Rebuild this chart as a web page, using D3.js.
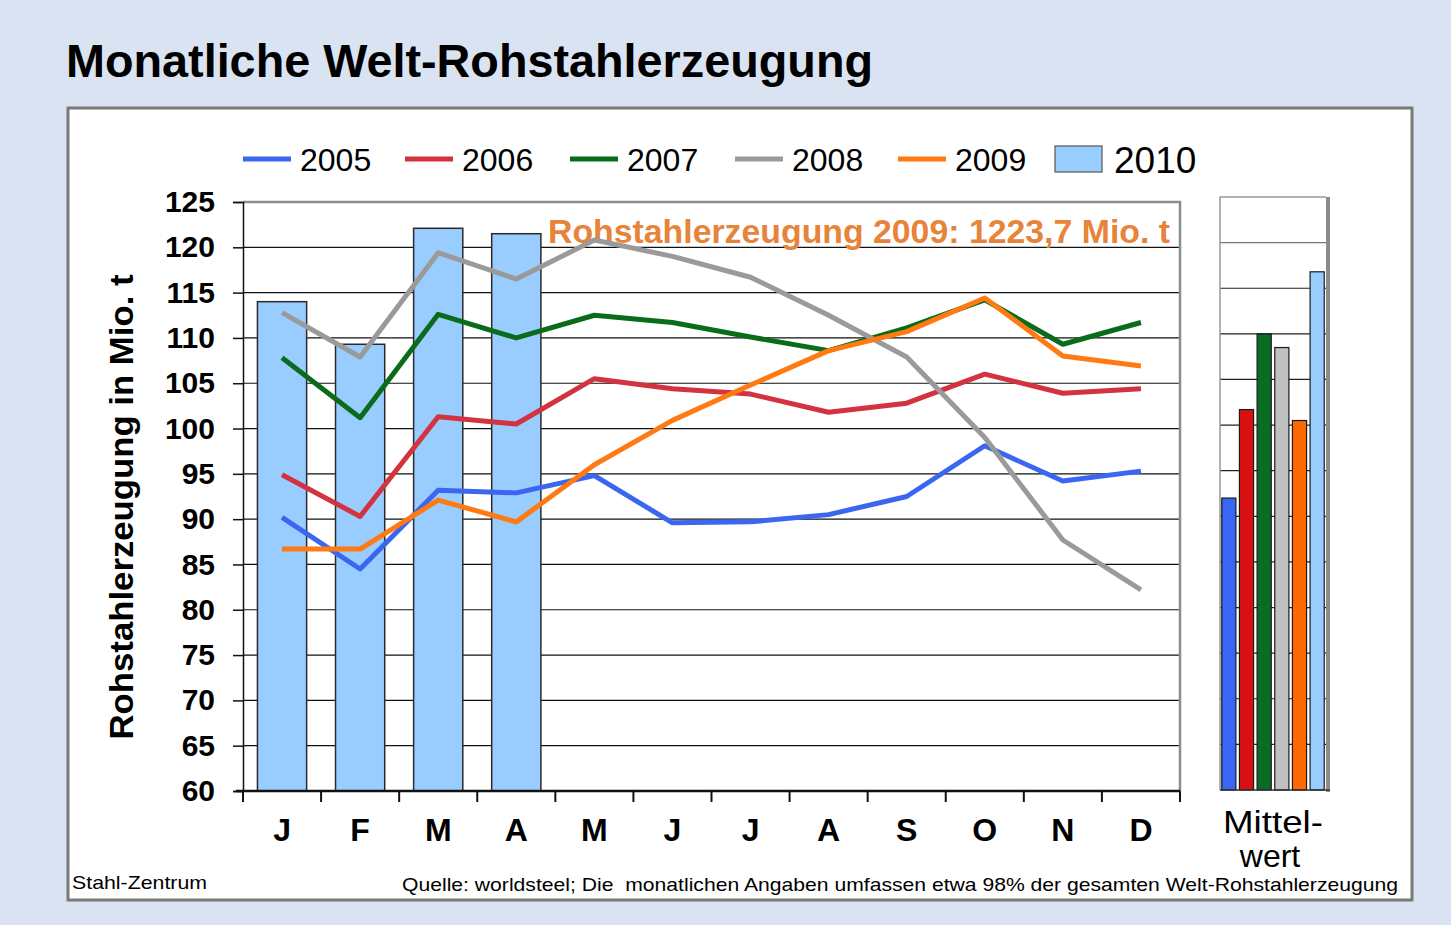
<!DOCTYPE html>
<meta charset="utf-8">
<html>
<head>
  <title>Monatliche Welt-Rohstahlerzeugung</title>
  <style>
    body { margin: 0; background-color: #dae3f1; }
    text { font-family: "Liberation Sans", Arial, sans-serif; }
  </style>
</head>
<body>
<div id="chart"></div>

<script src="https://d3js.org/d3.v7.min.js"></script>
<script>

// months (keys must be unique for the band scale) and their labels
var monthKeys = ["jan","feb","mar","apr","may","jun","jul","aug","sep","oct","nov","dec"];
var monthLabels = ["J","F","M","A","M","J","J","A","S","O","N","D"];

// monthly world crude steel production, Mio. t
var years = ["2005","2006","2007","2008","2009","2010"];
var v2005 = [90.2, 84.5, 93.2, 92.9, 94.8, 89.6, 89.7, 90.5, 92.5, 98.1, 94.2, 95.3];
var v2006 = [94.9, 90.3, 101.3, 100.5, 105.5, 104.4, 103.8, 101.8, 102.8, 106.0, 103.9, 104.4];
var v2007 = [107.8, 101.2, 112.6, 110.0, 112.5, 111.7, 110.1, 108.6, 111.1, 114.2, 109.3, 111.7];
var v2008 = [112.8, 107.9, 119.4, 116.5, 120.8, 119.0, 116.7, 112.5, 107.9, 99.0, 87.7, 82.2];
var v2009 = [86.7, 86.7, 92.1, 89.7, 96.0, 100.9, 104.8, 108.6, 110.7, 114.4, 108.0, 106.9];
var v2010 = [114.0, 109.3, 122.1, 121.5];

// averages shown in the small panel (2005..2010)
var means = [92.0, 101.7, 110.0, 108.5, 100.5, 116.8];

// y ticks
var yTicks = [60, 65, 70, 75, 80, 85, 90, 95, 100, 105, 110, 115, 120, 125];

var lineColors = ["#3a66f0", "#d3323f", "#0a6b1a", "#9a9a9a", "#ff7a12"];
var meanColors = ["#3a66f5", "#d91010", "#0a6b22", "#c0c0c0", "#ff6a00", "#99ccff"];
var barColor = "#99ccff";

var W = 1451, H = 925;
var svg = d3.select("#chart").append("svg")
    .attr("width", W)
    .attr("height", H);

// title
svg.append("text")
    .attr("x", 66).attr("y", 77)
    .attr("font-size", 46).attr("font-weight", "bold")
    .attr("textLength", 807).attr("lengthAdjust", "spacingAndGlyphs")
    .text("Monatliche Welt-Rohstahlerzeugung");

// white frame
svg.append("rect")
    .attr("x", 68).attr("y", 108)
    .attr("width", 1344).attr("height", 792)
    .attr("fill", "#fff")
    .attr("stroke", "#7a7a7a").attr("stroke-width", 3);

// main scales
var x = d3.scaleBand().domain(monthKeys).range([243, 1180]);
var y = d3.scaleLinear().domain([60, 125]).range([791, 202]);

// gridlines
svg.append("g").selectAll("line")
  .data(yTicks.filter(function(d) { return d > 60 && d < 125; }))
  .enter().append("line")
    .attr("x1", 243).attr("x2", 1180)
    .attr("y1", function(d) { return y(d); })
    .attr("y2", function(d) { return y(d); })
    .attr("stroke", "#111").attr("stroke-width", 1.2);

// plot border top / right (grey)
svg.append("path")
    .attr("d", "M243," + y(125) + "H1180V" + y(60))
    .attr("fill", "none").attr("stroke", "#8c8c8c").attr("stroke-width", 2.5);

// 2010 bars
var bw = x.bandwidth() * 0.63;
svg.append("g").selectAll("rect")
  .data(v2010)
  .enter().append("rect")
    .attr("x", function(d, i) { return x(monthKeys[i]) + (x.bandwidth() - bw) / 2; })
    .attr("y", function(d) { return y(d); })
    .attr("width", bw)
    .attr("height", function(d) { return y(60) - y(d); })
    .attr("fill", barColor)
    .attr("stroke", "#2a2a2a").attr("stroke-width", 1.5);

// annotation
svg.append("text")
    .attr("x", 548).attr("y", 243)
    .attr("font-size", 33).attr("font-weight", "bold")
    .attr("fill", "#e8833a")
    .attr("textLength", 622).attr("lengthAdjust", "spacingAndGlyphs")
    .text("Rohstahlerzeugung 2009: 1223,7 Mio. t");

// lines
var line = d3.line()
    .x(function(d, i) { return x(monthKeys[i]) + x.bandwidth() / 2; })
    .y(function(d) { return y(d); });

[v2005, v2006, v2007, v2008, v2009].forEach(function(series, k) {
  svg.append("path")
    .datum(series)
    .attr("d", line)
    .attr("fill", "none")
    .attr("stroke", lineColors[k])
    .attr("stroke-width", 5)
    .attr("stroke-linejoin", "round");
});

// y axis
var yAxis = svg.append("g")
    .attr("transform", "translate(243,0)")
    .call(d3.axisLeft(y).tickValues(yTicks).tickSize(10).tickPadding(18));
yAxis.select(".domain").attr("stroke", "#111").attr("stroke-width", 1.5);
yAxis.selectAll(".tick line").attr("stroke", "#111").attr("stroke-width", 1.5);
yAxis.selectAll("text")
    .attr("font-size", 30).attr("font-weight", "bold")
    .attr("font-family", "Liberation Sans, Arial, sans-serif")
    .attr("fill", "#000");

// x axis line + boundary ticks
svg.append("line")
    .attr("x1", 236).attr("x2", 1180)
    .attr("y1", y(60)).attr("y2", y(60))
    .attr("stroke", "#111").attr("stroke-width", 2.5);
svg.append("g").selectAll("line")
  .data(monthKeys.map(function(m) { return x(m); }).concat([x.range()[1]]))
  .enter().append("line")
    .attr("x1", function(d) { return d; }).attr("x2", function(d) { return d; })
    .attr("y1", y(60)).attr("y2", y(60) + 11)
    .attr("stroke", "#111").attr("stroke-width", 2);

var xAxis = svg.append("g")
    .attr("transform", "translate(0," + y(60) + ")")
    .call(d3.axisBottom(x).tickSize(0).tickPadding(27)
      .tickFormat(function(d, i) { return monthLabels[i]; }));
xAxis.select(".domain").remove();
xAxis.selectAll("text")
    .attr("font-size", 32).attr("font-weight", "bold")
    .attr("font-family", "Liberation Sans, Arial, sans-serif")
    .attr("fill", "#000");

// y axis title
svg.append("text")
    .attr("transform", "translate(133,507) rotate(-90)")
    .attr("text-anchor", "middle")
    .attr("font-size", 34).attr("font-weight", "bold")
    .attr("textLength", 465).attr("lengthAdjust", "spacingAndGlyphs")
    .text("Rohstahlerzeugung in Mio. t");

// legend
var legend = svg.append("g");
var legX = [243, 405, 570, 735, 898];
years.slice(0, 5).forEach(function(yr, k) {
  legend.append("line")
    .attr("x1", legX[k]).attr("x2", legX[k] + 48)
    .attr("y1", 159).attr("y2", 159)
    .attr("stroke", lineColors[k]).attr("stroke-width", 5);
  legend.append("text")
    .attr("x", legX[k] + 57).attr("y", 171)
    .attr("font-size", 32)
    .text(yr);
});
legend.append("rect")
    .attr("x", 1055).attr("y", 146).attr("width", 47).attr("height", 26)
    .attr("fill", barColor).attr("stroke", "#555").attr("stroke-width", 1.2);
legend.append("text")
    .attr("x", 1114).attr("y", 173)
    .attr("font-size", 37)
    .text(years[5]);

// Mittelwert panel
var xm = d3.scaleBand().domain(years).range([1220, 1326]).paddingInner(0.2).paddingOuter(0.1);
var ym = d3.scaleLinear().domain([60, 125]).range([790, 197]);

svg.append("g").selectAll("line")
  .data(yTicks.filter(function(d) { return d > 60 && d < 125; }))
  .enter().append("line")
    .attr("x1", 1220).attr("x2", 1326)
    .attr("y1", function(d) { return ym(d); })
    .attr("y2", function(d) { return ym(d); })
    .attr("stroke", function(d) { return d > 115 ? "#777" : "#222"; })
    .attr("stroke-width", 1.2);

svg.append("path")
    .attr("d", "M1220," + ym(60) + "V" + ym(125) + "H1326")
    .attr("fill", "none").attr("stroke", "#999").attr("stroke-width", 1.5);
svg.append("line")
    .attr("x1", 1328).attr("x2", 1328)
    .attr("y1", ym(125)).attr("y2", ym(60) + 2)
    .attr("stroke", "#8c8c8c").attr("stroke-width", 4);

svg.append("g").selectAll("rect")
  .data(means)
  .enter().append("rect")
    .attr("x", function(d, i) { return xm(years[i]); })
    .attr("y", function(d) { return ym(d); })
    .attr("width", xm.bandwidth())
    .attr("height", function(d) { return ym(60) - ym(d); })
    .attr("fill", function(d, i) { return meanColors[i]; })
    .attr("stroke", "#1a1a1a").attr("stroke-width", 1.2);

svg.append("line")
    .attr("x1", 1220).attr("x2", 1330)
    .attr("y1", ym(60)).attr("y2", ym(60))
    .attr("stroke", "#333").attr("stroke-width", 1.5);

svg.append("text")
    .attr("x", 1273).attr("y", 833)
    .attr("text-anchor", "middle").attr("font-size", 32)
    .attr("textLength", 100).attr("lengthAdjust", "spacingAndGlyphs")
    .text("Mittel-");
svg.append("text")
    .attr("x", 1270).attr("y", 867)
    .attr("text-anchor", "middle").attr("font-size", 32)
    .text("wert");

// footer
svg.append("text")
    .attr("x", 72).attr("y", 889)
    .attr("font-size", 19)
    .attr("textLength", 135).attr("lengthAdjust", "spacingAndGlyphs")
    .text("Stahl-Zentrum");
svg.append("text")
    .attr("x", 402).attr("y", 891)
    .attr("font-size", 19)
    .attr("textLength", 996).attr("lengthAdjust", "spacingAndGlyphs")
    .style("white-space", "pre")
    .text("Quelle: worldsteel; Die  monatlichen Angaben umfassen etwa 98% der gesamten Welt-Rohstahlerzeugung");

</script>
</body>
</html>
